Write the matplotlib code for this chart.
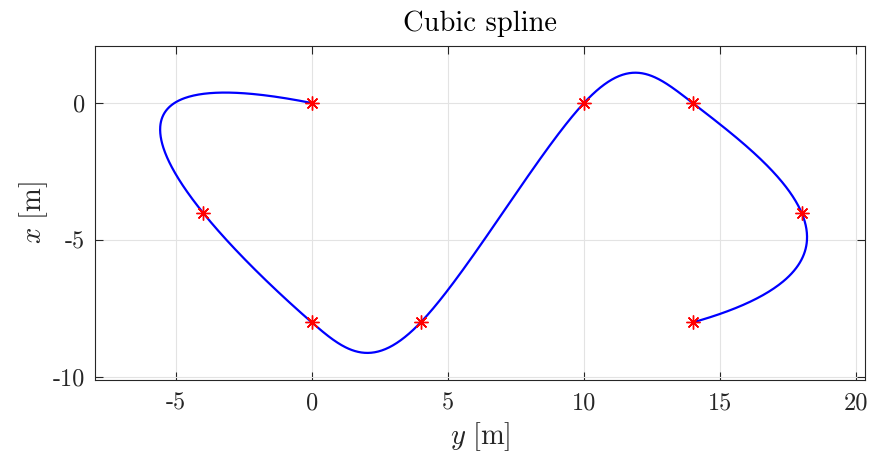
import numpy as np
import matplotlib
matplotlib.use("Agg")
import matplotlib.pyplot as plt

# waypoints (horizontal axis = y, vertical axis = x) and their spline knots
way_y = [0, -4, 0, 4, 10, 14, 18, 14]
way_x = [0, -4, -8, -8, 0, 0, -4, -8]
knots = [0, 2, 3, 4, 5, 6, 7, 8]
xticks = [-5, 0, 5, 10, 15, 20]
yticks = [-10, -5, 0]


def notaknot_spline(t, v, tt):
    t = np.asarray(t, float)
    v = np.asarray(v, float)
    n = len(t)
    h = np.diff(t)
    A = np.zeros((n, n))
    b = np.zeros(n)
    A[0, 0] = h[1]; A[0, 1] = -(h[0] + h[1]); A[0, 2] = h[0]
    A[-1, -3] = h[-1]; A[-1, -2] = -(h[-2] + h[-1]); A[-1, -1] = h[-2]
    for i in range(1, n - 1):
        A[i, i - 1] = h[i - 1]
        A[i, i] = 2 * (h[i - 1] + h[i])
        A[i, i + 1] = h[i]
        b[i] = 6 * ((v[i + 1] - v[i]) / h[i] - (v[i] - v[i - 1]) / h[i - 1])
    M = np.linalg.solve(A, b)
    idx = np.clip(np.searchsorted(t, tt) - 1, 0, n - 2)
    t0 = t[idx]; t1 = t[idx + 1]; hh = t1 - t0
    a = (t1 - tt) / hh; bb = (tt - t0) / hh
    return (a * v[idx] + bb * v[idx + 1]
            + ((a ** 3 - a) * M[idx] + (bb ** 3 - bb) * M[idx + 1]) * hh ** 2 / 6)


tt = np.linspace(knots[0], knots[-1], 1000)
cy = notaknot_spline(knots, way_y, tt)
cx = notaknot_spline(knots, way_x, tt)

plt.rcParams['mathtext.fontset'] = 'cm'
plt.rcParams['font.family'] = 'cmr10'
plt.rcParams['axes.formatter.use_mathtext'] = True

fig = plt.figure(figsize=(8.69, 4.57), dpi=100)
ax = fig.add_axes([0.1093, 0.1685, 0.8861, 0.7308])
ax.plot(cy, cx, color='#0000ff', lw=1.6, zorder=3)
ax.plot(way_y, way_x, linestyle='none', marker=(8, 2, 0), color='#ff0000',
        markersize=10, mew=1.0, zorder=4)

ax.set_xlim(-7.97, 20.33)
ax.set_ylim(-10.1, 2.08)
ax.set_xticks(xticks)
ax.set_yticks(yticks)
ax.set_xticklabels([str(v) for v in xticks], fontsize=17.5, color='#262626')
ax.set_yticklabels([str(v) for v in yticks], fontsize=17.5, color='#262626')
ax.grid(True, color='#e3e3e3', lw=0.8)
ax.set_axisbelow(True)
ax.tick_params(direction='in', top=True, right=True, length=6, width=0.8,
               color='#262626')
ax.tick_params(axis='x', pad=9)
ax.tick_params(axis='y', pad=7)
for s in ax.spines.values():
    s.set_color('#262626')
    s.set_linewidth(0.8)

ax.set_title('Cubic spline', fontsize=20.5, color='#000000', pad=11)
ax.set_xlabel(r'$y\ \mathrm{[m]}$', fontsize=20.5, color='#262626', labelpad=4)
ax.set_ylabel(r'$x\ \mathrm{[m]}$', fontsize=20.5, color='#262626', labelpad=2)

fig.savefig('out.png', dpi=100)
